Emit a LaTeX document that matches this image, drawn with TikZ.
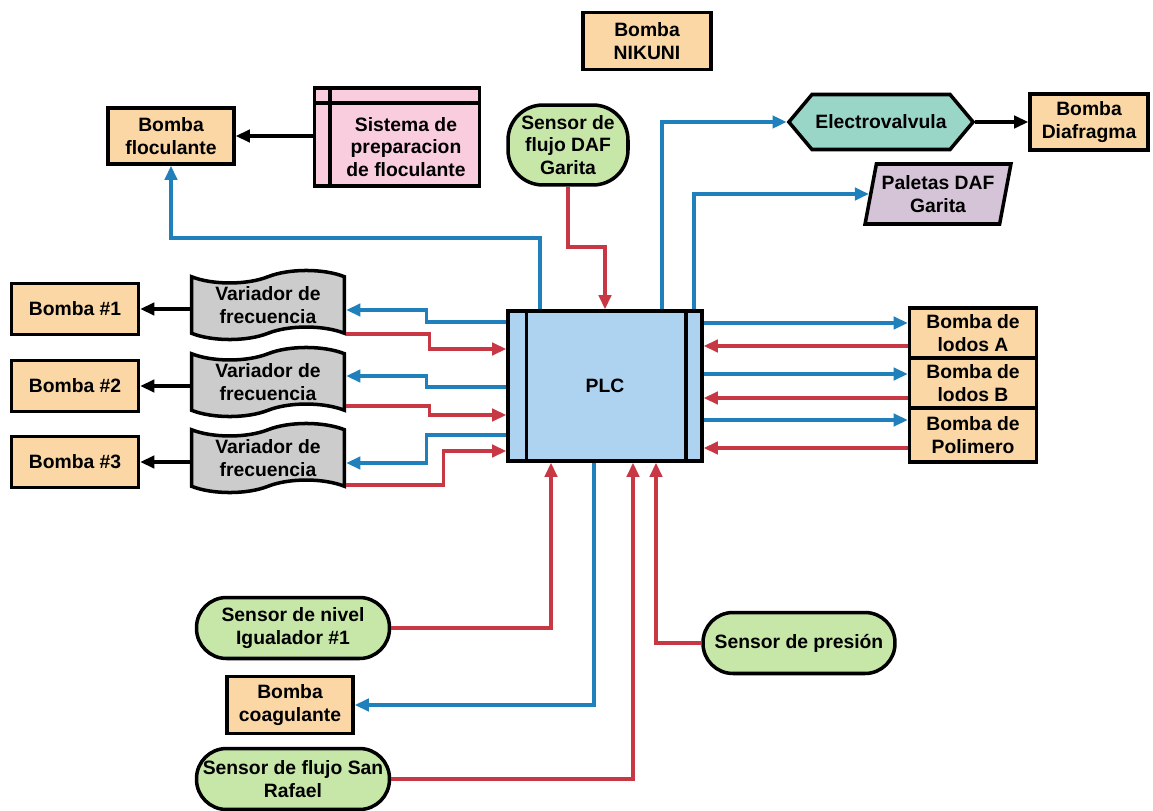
\documentclass[tikz,border=0pt]{standalone}
\usepackage{fontspec}
\setmainfont{Liberation Sans}
\usepackage{xcolor}
\usepackage{tikz}
\usetikzlibrary{shapes.geometric,shapes.symbols,arrows.meta}
\definecolor{pumpfill}{RGB}{250,215,165}
\definecolor{sensorfill}{RGB}{199,231,169}
\definecolor{plcfill}{RGB}{174,211,240}
\definecolor{prepfill}{RGB}{250,205,222}
\definecolor{valvefill}{RGB}{153,214,200}
\definecolor{paddlefill}{RGB}{213,195,216}
\definecolor{drivefill}{RGB}{204,204,204}
\definecolor{sigout}{RGB}{31,128,188}
\definecolor{sigin}{RGB}{200,55,68}

\tikzset{
  box/.style={draw, line width=2pt, align=center, inner sep=2pt,
    font=\bfseries\fontsize{11}{13}\selectfont},
  pumpbox/.style={box, fill=pumpfill, minimum width=2.54cm, minimum height=1.02cm},
  sensorbox/.style={box, fill=sensorfill, rounded corners=0.6cm,
    minimum width=3.86cm, minimum height=1.22cm},
  drivebox/.style={box, fill=drivefill, tape, tape bend top=in and out,
    tape bend bottom=in and out, tape bend height=0.25cm,
    minimum width=3.06cm, minimum height=1.32cm},
  tip/.style={-{Triangle[length=8pt,width=7pt]}},
  outsig/.style={tip, draw=sigout, line width=1.9pt},
  insig/.style={tip, draw=sigin, line width=1.9pt},
  flow/.style={tip, draw=black, line width=1.9pt},
}

\begin{document}
\begin{tikzpicture}[x=0.02cm,y=-0.02cm]
\useasboundingbox (0,0) rectangle (1153,811);
% Controller
\node[box, fill=plcfill, minimum width=3.88cm, minimum height=3cm] (plc) at (605,386) {PLC};
\draw[line width=2pt] ([xshift=0.4cm]plc.north west) -- ([xshift=0.4cm]plc.south west);
\draw[line width=2pt] ([xshift=-0.36cm]plc.north east) -- ([xshift=-0.36cm]plc.south east);

% Top row
\node[pumpbox, minimum width=2.56cm, minimum height=1.14cm] (nikuni) at (647,41) {Bomba\\NIKUNI};
\node[pumpbox, minimum width=2.52cm, minimum height=1.12cm] (bfloc) at (171,136) {Bomba\\floculante};
\node[box, fill=prepfill, minimum width=3.3cm, minimum height=1.96cm,
  label={[font=\bfseries\fontsize{11}{13}\selectfont, align=center, xshift=0.18cm, yshift=-0.2cm]center:Sistema de\\preparacion\\de floculante}] (prepfloc) at (397,137) {};
\draw[line width=2pt] ([xshift=0.34cm]prepfloc.north west) -- ([xshift=0.34cm]prepfloc.south west);
\draw[line width=2pt] ([yshift=-0.34cm]prepfloc.north west) -- ([yshift=-0.34cm]prepfloc.north east);
\node[sensorbox, minimum width=2.4cm, minimum height=1.6cm, rounded corners=0.7cm] (sdaf) at (568,145) {Sensor de\\flujo DAF\\Garita};
\node[box, fill=valvefill, signal, signal to=west and east, signal pointer angle=100,
  minimum width=3.6cm, minimum height=1.1cm] (elvalve) at (881,122) {Electrovalvula};
\node[pumpbox, minimum width=2.36cm, minimum height=1.12cm] (bdiaf) at (1089,122) {Bomba\\Diafragma};
\node[box, fill=paddlefill, trapezium, trapezium left angle=76, trapezium right angle=104,
  trapezium stretches=true, minimum width=2.94cm, minimum height=1.2cm] (paletas) at (938,194) {Paletas DAF\\Garita};

\draw[flow] (prepfloc.west |- bfloc) -- (bfloc.east);
\draw[outsig] (plc.north -| 540,0) |- (0,238 -| bfloc.south) -- (bfloc.south);
\draw[insig] (sdaf.south) -- (sdaf.south |- 0,247) -| (plc.north);
\draw[outsig] (plc.north -| 662,0) |- (elvalve.west);
\draw[outsig] (plc.north -| 694,0) |- (paletas.west);
\draw[flow] (elvalve.east) -- (bdiaf.west);

% Drives and pumps on the left
\foreach \i/\y in {1/305,2/382,3/458}{
  \node[drivebox] (var\i) at (268,\y) {Variador de\\frecuencia};
  \node[pumpbox] (bomba\i) at (75,\y+4) {Bomba \#\i};
  \draw[flow] (var\i.west |- bomba\i) -- (bomba\i.east);
}
\draw[outsig] (plc.west |- 0,322) -- ++(-80,0) |- (var1.east |- 0,310);
\draw[insig] (var1.east |- 0,334) -- ++(83,0) |- (plc.west |- 0,349);
\draw[outsig] (plc.west |- 0,387) -- ++(-80,0) |- (var2.east |- 0,376);
\draw[insig] (var2.east |- 0,406) -- ++(83,0) |- (plc.west |- 0,415);
\draw[outsig] (plc.west |- 0,435) -- ++(-80,0) |- (var3.east |- 0,463);
\draw[insig] (var3.east |- 0,485) -- ++(97,0) |- (plc.west |- 0,451);

% Pumps on the right
\node[pumpbox, minimum height=1cm] (lodosA) at (973,333) {Bomba de\\lodos A};
\node[pumpbox, minimum height=1cm] (lodosB) at (973,383) {Bomba de\\lodos B};
\node[pumpbox, minimum height=1.08cm] (polim) at (973,435) {Bomba de\\Polimero};
\foreach \b/\o/\n in {lodosA/323/346, lodosB/374/398, polim/420/448}{
  \draw[outsig] (plc.east |- 0,\o) -- (\b.west |- 0,\o);
  \draw[insig] (\b.west |- 0,\n) -- (plc.east |- 0,\n);
}

% Bottom sensors
\node[sensorbox] (snivel) at (293,628) {Sensor de nivel\\Igualador \#1};
\node[pumpbox, minimum width=2.52cm, minimum height=1.14cm] (bcoag) at (290,705) {Bomba\\coagulante};
\node[sensorbox] (ssrafael) at (293,779) {Sensor de flujo San\\Rafael};
\node[sensorbox, minimum width=3.84cm] (spresion) at (799,643) {Sensor de presión};

\draw[insig] (snivel.east) -| (plc.south -| 551,0);
\draw[outsig] (plc.south -| 594,0) |- (bcoag.east);
\draw[insig] (ssrafael.east) -| (plc.south -| 633,0);
\draw[insig] (spresion.west) -| (plc.south -| 656,0);
\end{tikzpicture}
\end{document}
